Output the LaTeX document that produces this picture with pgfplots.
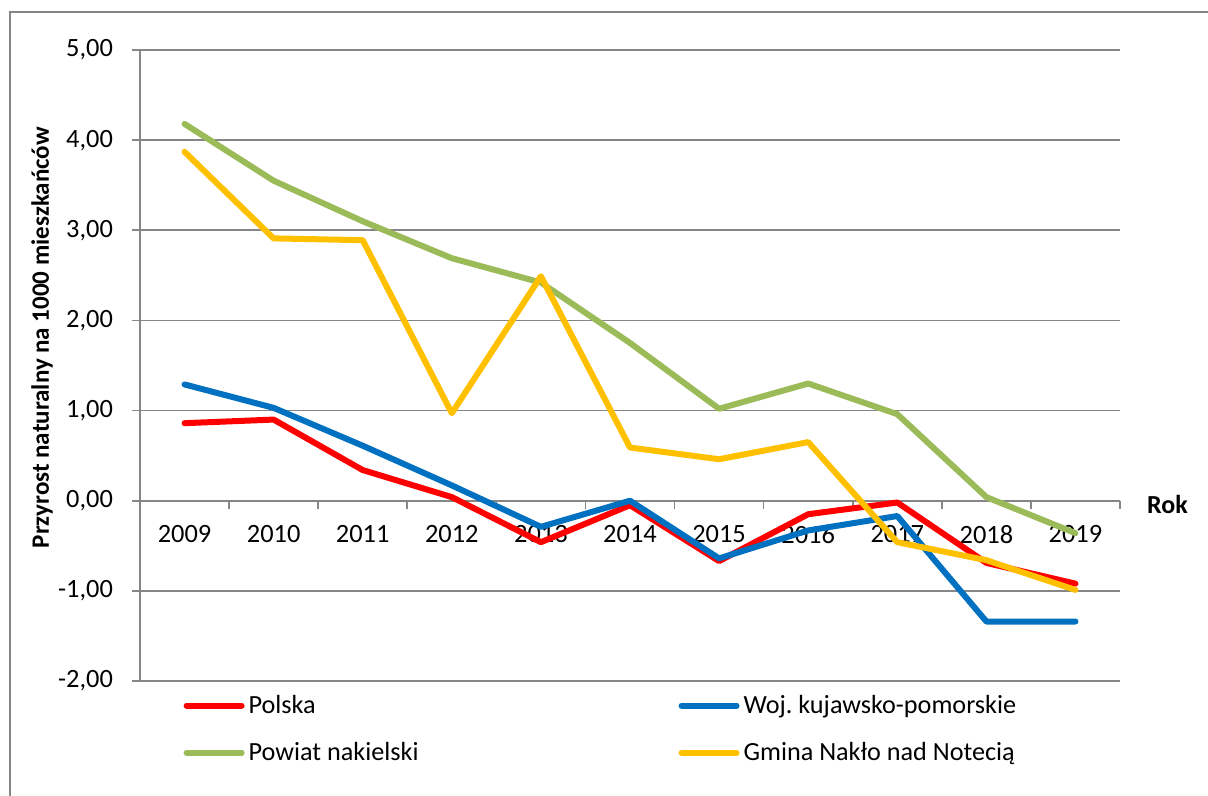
\documentclass[border=0pt]{standalone}
\usepackage{fontspec}
\setmainfont{Carlito}
\usepackage{pgfplots}
\pgfplotsset{compat=1.18}
\definecolor{cRed}{HTML}{FF0000}
\definecolor{cBlue}{HTML}{0070C0}
\definecolor{cGreen}{HTML}{9BBB59}
\definecolor{cYellow}{HTML}{FFC000}
\definecolor{cGrid}{HTML}{868686}
\frenchspacing
\begin{document}
\begin{tikzpicture}
\path[use as bounding box] (0,0) rectangle (604pt,398pt);
\draw[cGrid, line width=0.8pt] (5pt,0pt) -- (5pt,392pt) -- (606pt,392pt);
\begin{axis}[
  at={(70pt,57.5pt)}, anchor=south west,
  scale only axis, width=490pt, height=315.5pt,
  xmin=-0.5, xmax=10.5, ymin=-2, ymax=5,
  axis x line=middle, axis y line=left,
  axis line style={cGrid, line width=0.8pt, -},
  xtick={0,...,10},
  xticklabels={2009,2010,2011,2012,2013,2014,2015,2016,2017,2018,2019},
  major x tick style={draw=none},
  minor xtick={-0.5,0.5,...,10.5},
  minor x tick style={cGrid, line width=0.8pt},
  minor tick length=4pt,
  xticklabel style={yshift=-5pt, font=\fontsize{13.2}{15}\selectfont},
  ytick={-2,...,5},
  ymajorgrids, grid style={cGrid, line width=0.8pt},
  major y tick style={cGrid, line width=0.8pt},
  tick align=outside,
  major tick length=4pt,
  yticklabel style={font=\fontsize{13.2}{15}\selectfont, xshift=-6pt},
  /pgf/number format/.cd, fixed, fixed zerofill, precision=2, use comma, assume math mode=true,
  /pgfplots/.cd,
  ylabel={\textbf{Przyrost naturalny na 1000 mieszkańców}},
  ylabel style={at={(axis description cs:-0.1,0.544)}, anchor=center, rotate=0, font=\fontsize{12.5}{14}\selectfont},
  xlabel={\textbf{Rok}},
  xlabel style={at={(axis cs:10.5,0)}, anchor=west, xshift=10pt, yshift=-2pt, font=\fontsize{13}{15}\selectfont},
  clip=false,
  legend columns=2,
  legend cell align=left,
  legend image code/.code={\draw[#1, line cap=round] (2.5pt,0pt) -- (30pt,0pt);},
  legend style={at={(axis description cs:0.038,-0.009)}, anchor=north west, draw=none, fill=none,
    font=\fontsize{13.1}{15}\selectfont, row sep=9pt,
    /tikz/every even column/.append style={column sep=128pt}},
  every axis plot/.append style={line width=3pt, line join=round, line cap=round},
]
\addplot[cRed] coordinates {(0,0.86)(1,0.90)(2,0.34)(3,0.04)(4,-0.46)(5,-0.05)(6,-0.67)(7,-0.15)(8,-0.02)(9,-0.69)(10,-0.92)};
\addlegendentry{Polska}
\addplot[cBlue] coordinates {(0,1.29)(1,1.03)(2,0.61)(3,0.17)(4,-0.29)(5,0.00)(6,-0.64)(7,-0.33)(8,-0.17)(9,-1.34)(10,-1.34)};
\addlegendentry{Woj. kujawsko-pomorskie}
\addplot[cGreen] coordinates {(0,4.18)(1,3.55)(2,3.10)(3,2.69)(4,2.42)(5,1.75)(6,1.02)(7,1.30)(8,0.96)(9,0.04)(10,-0.36)};
\addlegendentry{Powiat nakielski}
\addplot[cYellow] coordinates {(0,3.87)(1,2.91)(2,2.89)(3,0.97)(4,2.49)(5,0.59)(6,0.46)(7,0.65)(8,-0.46)(9,-0.66)(10,-0.99)};
\addlegendentry{Gmina Nakło nad Notecią}
\end{axis}
\end{tikzpicture}
\end{document}
